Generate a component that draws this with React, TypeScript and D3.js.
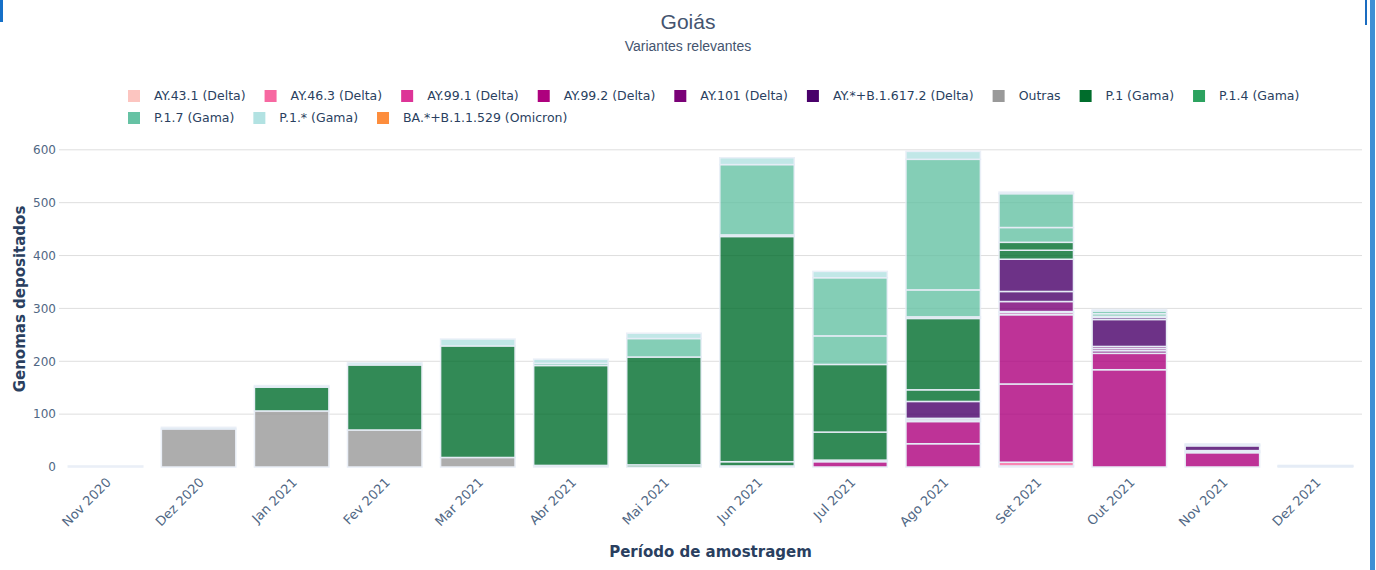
import { useEffect, useRef } from "react";
import * as d3 from "d3";

const months = [
  "Nov 2020", "Dez 2020", "Jan 2021", "Fev 2021", "Mar 2021", "Abr 2021", "Mai 2021",
  "Jun 2021", "Jul 2021", "Ago 2021", "Set 2021", "Out 2021", "Nov 2021", "Dez 2021",
];

const seriesNames = [
  "AY.43.1 (Delta)", "AY.46.3 (Delta)", "AY.99.1 (Delta)", "AY.99.2 (Delta)",
  "AY.101 (Delta)", "AY.*+B.1.617.2 (Delta)", "Outras", "P.1 (Gama)",
  "P.1.4 (Gama)", "P.1.7 (Gama)", "P.1.* (Gama)", "BA.*+B.1.1.529 (Omicron)",
];

const seriesColors = [
  "#fcc5c0", "#f768a1", "#dd3497", "#ae017e", "#7a0177", "#49006a",
  "#999999", "#006d2c", "#2ca25f", "#66c2a4", "#b2e2e2", "#fd8d3c",
];

// one entry per month, each entry lists the stacked pieces of that month
const ay43_1 = [[], [], [], [], [], [], [], [], [], [], [2], [], [], []];
const ay46_3 = [[], [], [], [], [], [], [], [], [], [], [7], [], [], []];
const ay99_1 = [[], [], [], [], [], [], [], [], [], [], [], [], [], []];
const ay99_2 = [[], [], [], [], [], [], [], [], [10], [44, 42], [148, 131, 4, 2], [184, 31], [27], []];
const ay101 = [[], [], [], [], [], [], [], [], [], [3, 3], [19], [5, 4, 4], [2, 2], []];
const ayOther = [[], [], [], [], [], [], [], [], [], [32], [19, 61], [51, 4], [9, 2], [1, 1, 1]];
const outras = [[], [72], [106], [70], [18], [3], [], [2], [3], [], [], [], [], []];
const p1 = [[], [], [45], [123], [211], [189], [4, 204], [8, 426], [53, 128], [22, 135], [17, 15], [2], [], []];
const p1_4 = [[], [], [], [], [], [], [], [3], [], [3], [], [], [], []];
const p1_7 = [[], [], [], [], [], [4], [35], [133], [54, 110], [51, 247], [28, 64], [5, 5], [], []];
const p1Other = [[2], [3], [3], [4], [13], [8], [10], [13], [12], [15], [3], [3], [2], []];
const baOmicron = [[], [], [], [], [], [], [], [], [], [], [], [], [], []];

const seriesValues = [ay43_1, ay46_3, ay99_1, ay99_2, ay101, ayOther, outras, p1, p1_4, p1_7, p1Other, baOmicron];

const yTicks = [0, 100, 200, 300, 400, 500, 600];

export default function App() {
  const svgRef = useRef<SVGSVGElement>(null);

  useEffect(() => {
    if (!svgRef.current) return;
    const svg = d3.select(svgRef.current);
    svg.selectAll("*").remove();

    const width = 1376;
    const height = 570;
    const left = 59;
    const right = 1362;
    const top = 135;
    const bottom = 467;
    const tickColor = "#506784";
    const titleColor = "#2a3f5f";
    const tickFont = "Verdana, 'DejaVu Sans', sans-serif";

    const x = d3.scaleBand().domain(months).range([left, right]).paddingInner(0.2).paddingOuter(0.1);
    const y = d3.scaleLinear().domain([0, 628]).range([bottom, top]);

    svg.append("rect").attr("width", width).attr("height", height).attr("fill", "#fff");

    // gridlines
    svg.append("g")
      .selectAll("line")
      .data(yTicks.filter((d) => d > 0))
      .join("line")
      .attr("x1", left)
      .attr("x2", right)
      .attr("y1", (d) => y(d))
      .attr("y2", (d) => y(d))
      .attr("stroke", "#dedede")
      .attr("stroke-width", 1);

    // y axis
    const yAxis = svg.append("g")
      .attr("transform", `translate(${left},0)`)
      .call(d3.axisLeft(y).tickValues(yTicks).tickSize(0).tickPadding(3));
    yAxis.select(".domain").remove();
    yAxis.selectAll(".tick text")
      .attr("fill", tickColor)
      .attr("font-size", 12)
      .attr("font-family", tickFont);

    // x axis
    const xAxis = svg.append("g")
      .attr("transform", `translate(0,${bottom})`)
      .call(d3.axisBottom(x).tickSize(0).tickPadding(0));
    xAxis.select(".domain").remove();
    xAxis.selectAll(".tick text")
      .attr("fill", tickColor)
      .attr("font-size", 13)
      .attr("font-family", tickFont)
      .attr("text-anchor", "end")
      .attr("dy", "0.35em")
      .attr("transform", "translate(3,13) rotate(-45)");

    // stacked bars
    const bars = svg.append("g");
    months.forEach((m, i) => {
      let cum = 0;
      seriesValues.forEach((vals, s) => {
        vals[i].forEach((v) => {
          bars.append("rect")
            .attr("x", x(m)!)
            .attr("width", x.bandwidth())
            .attr("y", y(cum + v))
            .attr("height", y(cum) - y(cum + v))
            .attr("fill", seriesColors[s])
            .attr("stroke", "#e5ecf6")
            .attr("stroke-width", 1.5)
            .attr("opacity", 0.8);
          cum += v;
        });
      });
    });

    // legend
    const legend = svg.append("g");
    let lx = 128;
    let ly = 96;
    seriesNames.forEach((name, s) => {
      const item = legend.append("g");
      item.append("rect")
        .attr("y", -6)
        .attr("width", 12)
        .attr("height", 12)
        .attr("fill", seriesColors[s]);
      const t = item.append("text")
        .attr("x", 26)
        .attr("dy", "0.35em")
        .attr("fill", titleColor)
        .attr("font-size", 12.5)
        .attr("font-family", tickFont)
        .text(name);
      const w = (t.node() as SVGTextElement).getComputedTextLength();
      if (lx + 26 + w > 1340) {
        lx = 128;
        ly += 22;
      }
      item.attr("transform", `translate(${lx},${ly})`);
      lx += 26 + w + 19;
    });

    // titles
    svg.append("text")
      .attr("x", 688)
      .attr("y", 29)
      .attr("text-anchor", "middle")
      .attr("fill", "#44546f")
      .attr("font-size", 21)
      .attr("font-family", "'Liberation Sans', Arial, sans-serif")
      .text("Goiás");
    svg.append("text")
      .attr("x", 688)
      .attr("y", 51)
      .attr("text-anchor", "middle")
      .attr("fill", "#44546f")
      .attr("font-size", 14)
      .attr("font-family", "'Liberation Sans', Arial, sans-serif")
      .text("Variantes relevantes");

    svg.append("text")
      .attr("x", (left + right) / 2)
      .attr("y", 557)
      .attr("text-anchor", "middle")
      .attr("fill", titleColor)
      .attr("font-size", 15)
      .attr("font-weight", "bold")
      .attr("font-family", tickFont)
      .text("Período de amostragem");
    svg.append("text")
      .attr("transform", `translate(25,${(top + bottom) / 2 - 2}) rotate(-90)`)
      .attr("text-anchor", "middle")
      .attr("fill", titleColor)
      .attr("font-size", 15)
      .attr("font-weight", "bold")
      .attr("font-family", tickFont)
      .text("Genomas depositados");

    // window frame edges
    svg.append("rect").attr("x", 0).attr("y", 0).attr("width", 3).attr("height", 22).attr("fill", "#1570c8");
    svg.append("rect").attr("x", 1365).attr("y", 0).attr("width", 2).attr("height", 25).attr("fill", "#1a6cc0");
    svg.append("rect").attr("x", 1370).attr("y", 0).attr("width", 5).attr("height", height).attr("fill", "#3d8fd4");
  }, []);

  return (
    <svg
      ref={svgRef}
      width={1376}
      height={570}
      style={{ position: "absolute", left: 0, top: 0, display: "block" }}
    />
  );
}
